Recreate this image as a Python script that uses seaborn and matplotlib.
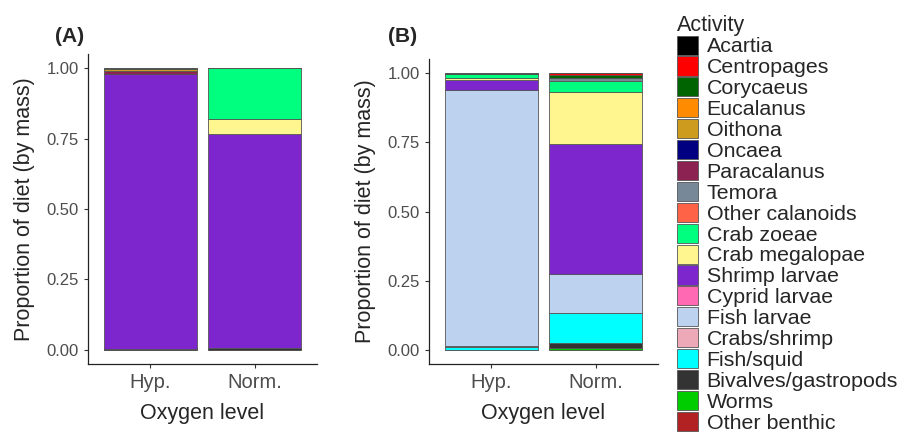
import pandas as pd
import seaborn as sns
import matplotlib.pyplot as plt
from matplotlib.patches import Patch

oxygen = ["Hyp.", "Norm."]
prey = ["Acartia", "Centropages", "Corycaeus", "Eucalanus", "Oithona", "Oncaea",
        "Paracalanus", "Temora", "Other calanoids", "Crab zoeae", "Crab megalopae",
        "Shrimp larvae", "Cyprid larvae", "Fish larvae", "Crabs/shrimp", "Fish/squid",
        "Bivalves/gastropods", "Worms", "Other benthic"]
colors = ["#000000", "#FF0000", "#006400", "#FF8C00", "#CD9B1D", "#000080",
          "#8B2252", "#778899", "#FF6347", "#00FF7F", "#FFF68F",
          "#7D26CD", "#FF69B4", "#BCD2EE", "#EEA9B8", "#00FFFF",
          "#333333", "#00CD00", "#B22222"]

# proportion of diet (by mass), same order as prey
a_hyp = [0, 0, 0.003, 0, 0.007, 0, 0.010, 0, 0, 0, 0,
         0.975, 0, 0, 0, 0, 0.005, 0, 0]
a_norm = [0, 0, 0, 0, 0, 0, 0, 0, 0, 0.181, 0.053,
          0.758, 0, 0, 0, 0, 0.008, 0, 0]
b_hyp = [0, 0, 0.005, 0, 0, 0, 0, 0, 0, 0.012, 0.008,
         0.037, 0, 0.922, 0.004, 0.012, 0, 0, 0]
b_norm = [0, 0.008, 0.012, 0, 0, 0, 0, 0.010, 0, 0.040, 0.185,
          0.470, 0, 0.140, 0, 0.110, 0.017, 0.008, 0]


def long_df(hyp, norm):
    rows = []
    for lvl, vals in zip(oxygen, [hyp, norm]):
        for p, v in zip(prey, vals):
            rows.append({"oxygen": lvl, "prey": p, "prop": v})
    return pd.DataFrame(rows)


sns.set_theme(style="ticks")
plt.rcParams["font.family"] = ["Liberation Sans", "DejaVu Sans"]

fig = plt.figure(figsize=(9.04, 4.32), dpi=100)
ax_a = fig.add_axes([88/904, 68/432, 229/904, 310/432])
ax_b = fig.add_axes([429/904, 68/432, 229/904, 305/432])
pal = dict(zip(prey, colors))
edge = "#555555"

panels = [(ax_a, long_df(a_hyp, a_norm), "(A)", 55), (ax_b, long_df(b_hyp, b_norm), "(B)", 388)]
for ax, df, tag, tx in panels:
    sns.histplot(data=df, x="oxygen", hue="prey", weights="prop", multiple="stack",
                 discrete=True, shrink=0.9, hue_order=prey, palette=pal,
                 edgecolor=edge, linewidth=0.6, alpha=1, legend=False, ax=ax)
    ax.set_xlim(-0.6, 1.6)
    ax.set_ylim(-0.05, 1.05)
    ax.set_xticks([0, 1])
    ax.set_xticklabels(oxygen)
    ax.set_yticks([0, 0.25, 0.5, 0.75, 1.0])
    ax.set_yticklabels(["0.00", "0.25", "0.50", "0.75", "1.00"])
    ax.tick_params(axis="x", labelsize=14.5, colors="#333333", labelcolor="#4d4d4d", length=3, width=0.8)
    ax.tick_params(axis="y", labelsize=12, colors="#333333", labelcolor="#4d4d4d", length=3, width=0.8)
    for s in ["top", "right"]:
        ax.spines[s].set_visible(False)
    for s in ["left", "bottom"]:
        ax.spines[s].set_color("#222222")
        ax.spines[s].set_linewidth(0.9)
    ax.set_xlabel("Oxygen level", fontsize=15.5, labelpad=8)
    ax.set_ylabel("Proportion of diet (by mass)", fontsize=15.5, labelpad=8)
    fig.text(tx/904, 1 - 37/432, tag, fontsize=15, fontweight="bold", va="center", ha="left")

handles = [Patch(facecolor=c, edgecolor=edge, linewidth=0.6, label=p) for p, c in zip(prey, colors)]
fig.legend(handles=handles, title="Activity", loc="upper left", bbox_to_anchor=(668/904, 1 - 6/432),
           frameon=False, fontsize=15.4, title_fontsize=15.5, handlelength=1.0, handleheight=1.0,
           handletextpad=0.4, labelspacing=0.0, borderaxespad=0.2, borderpad=0.2, alignment="left")

fig.savefig("out.png", dpi=100)
